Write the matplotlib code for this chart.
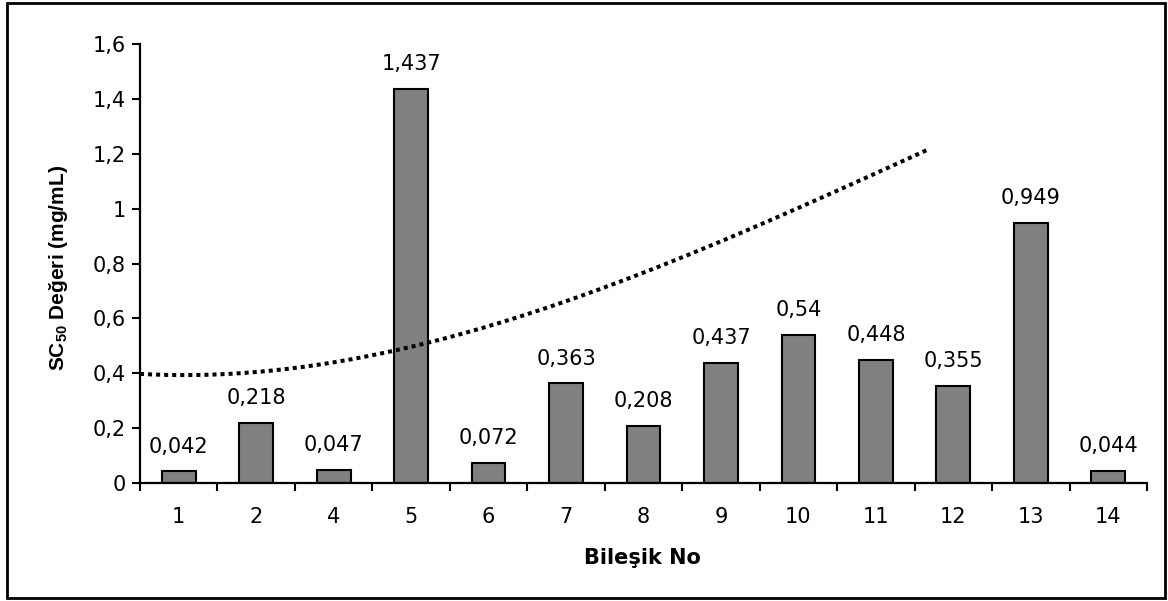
import numpy as np
import matplotlib
matplotlib.use("Agg")
import matplotlib.pyplot as plt
from matplotlib.patches import Rectangle

plt.rcParams["font.family"] = ["DejaVu Sans"]
plt.rcParams["mathtext.fontset"] = "custom"
plt.rcParams["mathtext.rm"] = "Liberation Sans"
plt.rcParams["mathtext.bf"] = "Liberation Sans:bold"

# Compound numbers and their SC50 values (mg/mL)
compounds = ["1", "2", "4", "5", "6", "7", "8", "9", "10", "11", "12", "13", "14"]
sc50 = [0.042, 0.218, 0.047, 1.437, 0.072, 0.363, 0.208, 0.437, 0.54, 0.448, 0.355, 0.949, 0.044]
value_labels = ["0,042", "0,218", "0,047", "1,437", "0,072", "0,363", "0,208",
                "0,437", "0,54", "0,448", "0,355", "0,949", "0,044"]

# Trend curve sample points (category position starting at 1, value)
trend_x = [0.565, 2.914, 4.244, 5.535, 6.826, 8.053, 9.279, 10.673]
trend_y = [0.396, 0.436, 0.521, 0.608, 0.747, 0.892, 1.038, 1.214]

y_ticks = [0, 0.2, 0.4, 0.6, 0.8, 1.0, 1.2, 1.4, 1.6]
y_tick_labels = ["0", "0,2", "0,4", "0,6", "0,8", "1", "1,2", "1,4", "1,6"]

W, H = 1168, 601
fig = plt.figure(figsize=(W / 100, H / 100), dpi=100)
ax = fig.add_axes([140 / W, 1 - 483 / H, 1007 / W, 439 / H])

x = np.arange(len(compounds))
ax.bar(x, sc50, width=0.435, color="#808080", edgecolor="black", linewidth=1.5, zorder=2)

for xi, v, lab in zip(x, sc50, value_labels):
    ax.annotate(lab, (xi, v), xytext=(0, 13.6), textcoords="offset points",
                ha="center", va="baseline", fontsize=15)

# Smooth polynomial trend through the sampled points
coef = np.polyfit(trend_x, trend_y, 3)
tx = np.linspace(0.5, trend_x[-1], 300)
ax.plot(tx - 1, np.polyval(coef, tx), color="black", linewidth=2.9,
        linestyle=(0, (1.0, 1.0)), zorder=3)

ax.set_xlim(-0.5, len(compounds) - 0.5)
ax.set_ylim(0, 1.6)
ax.set_yticks(y_ticks)
ax.set_yticklabels(y_tick_labels, fontsize=15)
ax.set_xticks(x)
ax.set_xticklabels(compounds, fontsize=15)
ax.set_xticks(np.arange(-0.5, len(compounds), 1.0), minor=True)
ax.tick_params(axis="x", which="major", length=0, pad=17)
ax.tick_params(axis="x", which="minor", length=6, width=1.5, direction="out")
ax.tick_params(axis="y", which="major", length=6, width=1.5, direction="out", pad=4)

for s in ["top", "right"]:
    ax.spines[s].set_visible(False)
for s in ["left", "bottom"]:
    ax.spines[s].set_linewidth(1.6)

fig.text(642 / W, 1 - 564 / H, "Bileşik No", fontsize=15, fontweight="bold",
         ha="center", va="baseline")
fig.text(58.5 / W, 1 - 267.5 / H, r"SC$_{\mathbf{50}}$ Değeri (mg/mL)",
         family="Liberation Sans", fontsize=15, fontweight="bold",
         rotation=90, ha="center", va="center")

fig.patches.append(Rectangle((7 / W, 3 / H), 1158 / W, 595 / H,
                             transform=fig.transFigure, fill=False,
                             edgecolor="black", linewidth=2))

fig.savefig("out.png", dpi=100)
